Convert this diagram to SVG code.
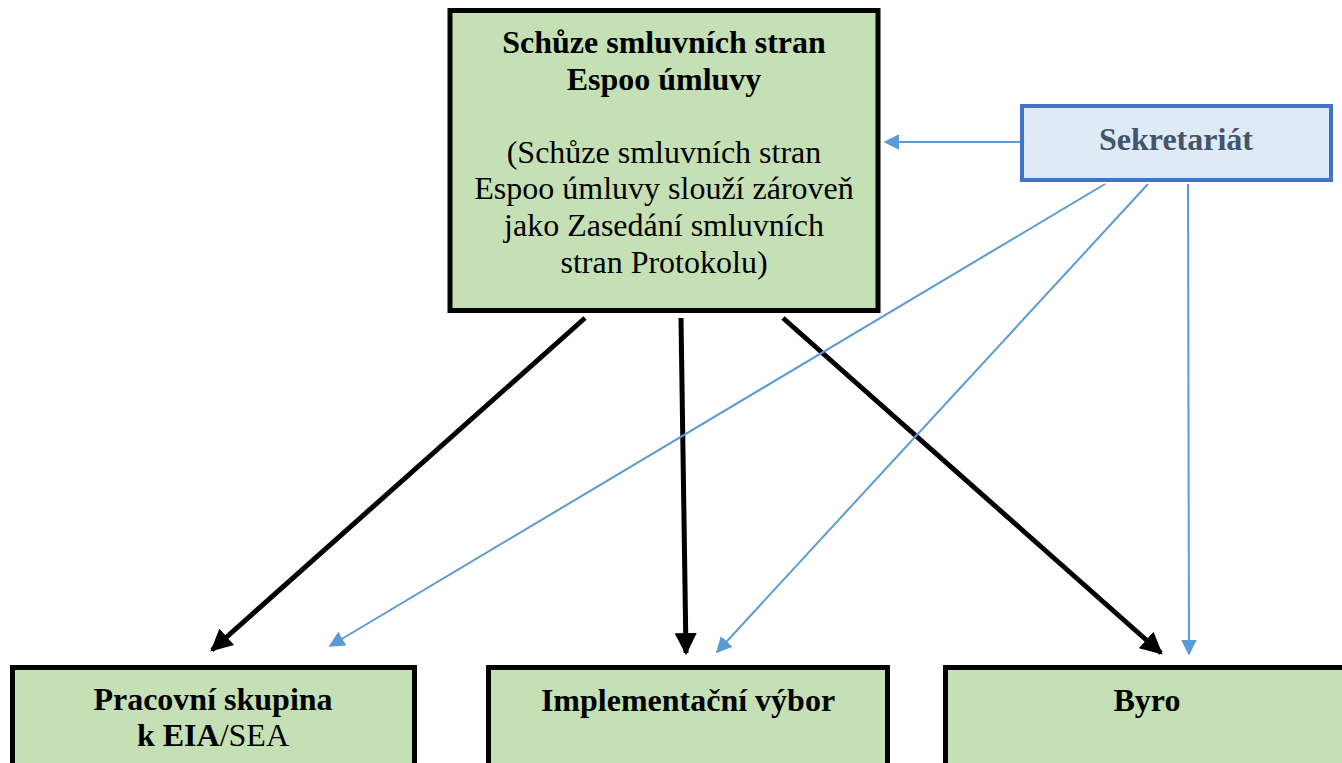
<svg xmlns="http://www.w3.org/2000/svg" width="1342" height="763" viewBox="0 0 1342 763">
<defs>
<style>
.box{fill:#C5E0B4;stroke:#000;stroke-width:5}
.sek{fill:#DEEAF6;stroke:#4472C4;stroke-width:4}
.t{font-family:"Liberation Serif","Times New Roman",serif;font-size:32px;fill:#000;text-anchor:middle}
.b{font-weight:bold}
.blk{stroke:#000;stroke-width:5;fill:none}
.blu{stroke:#5B9BD5;stroke-width:2;fill:none}
</style>
<marker id="ab" viewBox="0 0 10 10" refX="9" refY="5" markerWidth="4.4" markerHeight="4.4" orient="auto" markerUnits="strokeWidth">
<path d="M0,0 L10,5 L0,10 z" fill="#000"/>
</marker>
<marker id="au" viewBox="0 0 10 10" refX="9" refY="5" markerWidth="8" markerHeight="8" orient="auto" markerUnits="strokeWidth">
<path d="M0,0 L10,5 L0,10 z" fill="#5B9BD5"/>
</marker>
</defs>
<g id="connectors">
<line class="blk" x1="585" y1="318" x2="212" y2="650" marker-end="url(#ab)"/>
<line class="blk" x1="681" y1="318" x2="686" y2="653" marker-end="url(#ab)"/>
<line class="blk" x1="783" y1="318" x2="1161" y2="653" marker-end="url(#ab)"/>
<line class="blu" x1="1020" y1="142" x2="885" y2="142" marker-end="url(#au)"/>
<line class="blu" x1="1105" y1="184" x2="330" y2="646" marker-end="url(#au)"/>
<line class="blu" x1="1148" y1="184" x2="717" y2="652" marker-end="url(#au)"/>
<line class="blu" x1="1188" y1="184" x2="1189" y2="654" marker-end="url(#au)"/>
</g>
<g id="schuze">
<rect class="box" x="450" y="10.5" width="428" height="300"/>
<text class="t b" x="664" y="53">Schůze smluvních stran</text>
<text class="t b" x="664" y="90">Espoo úmluvy</text>
<text class="t" x="664" y="163">(Schůze smluvních stran</text>
<text class="t" x="664" y="199">Espoo úmluvy slouží zároveň</text>
<text class="t" x="664" y="236">jako Zasedání smluvních</text>
<text class="t" x="664" y="273">stran Protokolu)</text>
</g>
<g id="sekretariat">
<rect class="sek" x="1022" y="106" width="309" height="74"/>
<text class="t b" x="1176" y="150" style="fill:#44546A">Sekretariát</text>
</g>
<g id="pracovni">
<rect class="box" x="12.5" y="667.5" width="402" height="110"/>
<text class="t b" x="213" y="710">Pracovní skupina</text>
<text class="t" x="213" y="746"><tspan class="b">k EIA</tspan>/SEA</text>
</g>
<g id="implementacni">
<rect class="box" x="488.5" y="667.5" width="399" height="110"/>
<text class="t b" x="688" y="711">Implementační výbor</text>
</g>
<g id="byro">
<rect class="box" x="945.5" y="667.5" width="420" height="110"/>
<text class="t b" x="1147" y="711">Byro</text>
</g>
</svg>
